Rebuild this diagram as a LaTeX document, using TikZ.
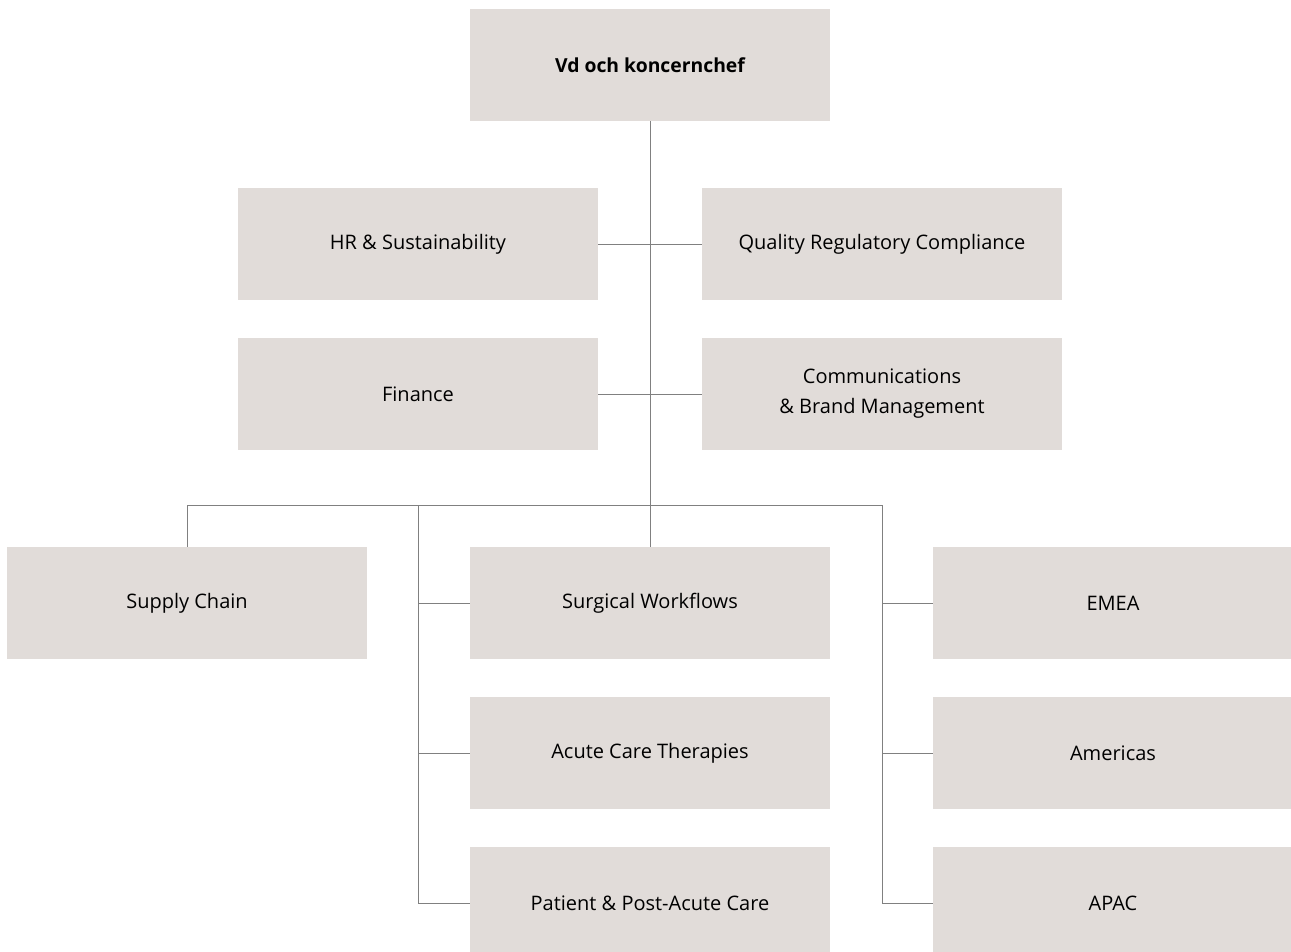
\documentclass[tikz,border=0pt]{standalone}
\usepackage{fontspec}
\setmainfont{Open Sans}
\definecolor{boxfill}{HTML}{E1DCD9}
\definecolor{linegray}{HTML}{808080}
\begin{document}
\begin{tikzpicture}[x=0.75pt,y=-0.75pt,
  unit/.style={fill=boxfill,draw=none,minimum width=270pt,minimum height=84pt,
    inner sep=0pt,align=center,font=\fontsize{15}{22.5}\selectfont},
  conn/.style={draw=linegray,line width=0.6pt}]
\useasboundingbox (0,0) rectangle (1291,951);
\begin{scope}
\clip (0,0) rectangle (1291,951);
% executive
\node[unit,font=\fontsize{14.5}{22}\selectfont\bfseries] (ceo) at (650,65) {Vd och koncernchef};
% staff functions
\node[unit] (hr) at (418,244) {HR \& Sustainability};
\node[unit] (qrc) at (882,244) {Quality Regulatory Compliance};
\node[unit] (fin) at (418,394) {Finance};
\node[unit] (com) at (882,394) {Communications\\\& Brand Management};
% business areas
\node[unit] (sc) at (187,603) {Supply Chain};
\node[unit] (sw) at (650,603) {Surgical Workflows};
\node[unit] (act) at (650,753) {Acute Care Therapies};
\node[unit] (pac) at (650,903) {Patient \& Post-Acute Care};
% regions
\node[unit] (emea) at (1113,603) {EMEA};
\node[unit] (am) at (1113,753) {Americas};
\node[unit] (apac) at (1113,903) {APAC};
\end{scope}
% connectors
\coordinate (bus) at (650,505);
\draw[conn] (ceo.south) -- (sw.north);
\draw[conn] (hr.east) -- (qrc.west);
\draw[conn] (fin.east) -- (com.west);
\draw[conn] (sc.north) |- (bus) -| (qrc.south |- apac.west) -- (apac.west);
\draw[conn] (hr.south |- bus) |- (pac.west);
\draw[conn] (hr.south |- sw.west) -- (sw.west);
\draw[conn] (hr.south |- act.west) -- (act.west);
\draw[conn] (qrc.south |- emea.west) -- (emea.west);
\draw[conn] (qrc.south |- am.west) -- (am.west);
\end{tikzpicture}
\end{document}
